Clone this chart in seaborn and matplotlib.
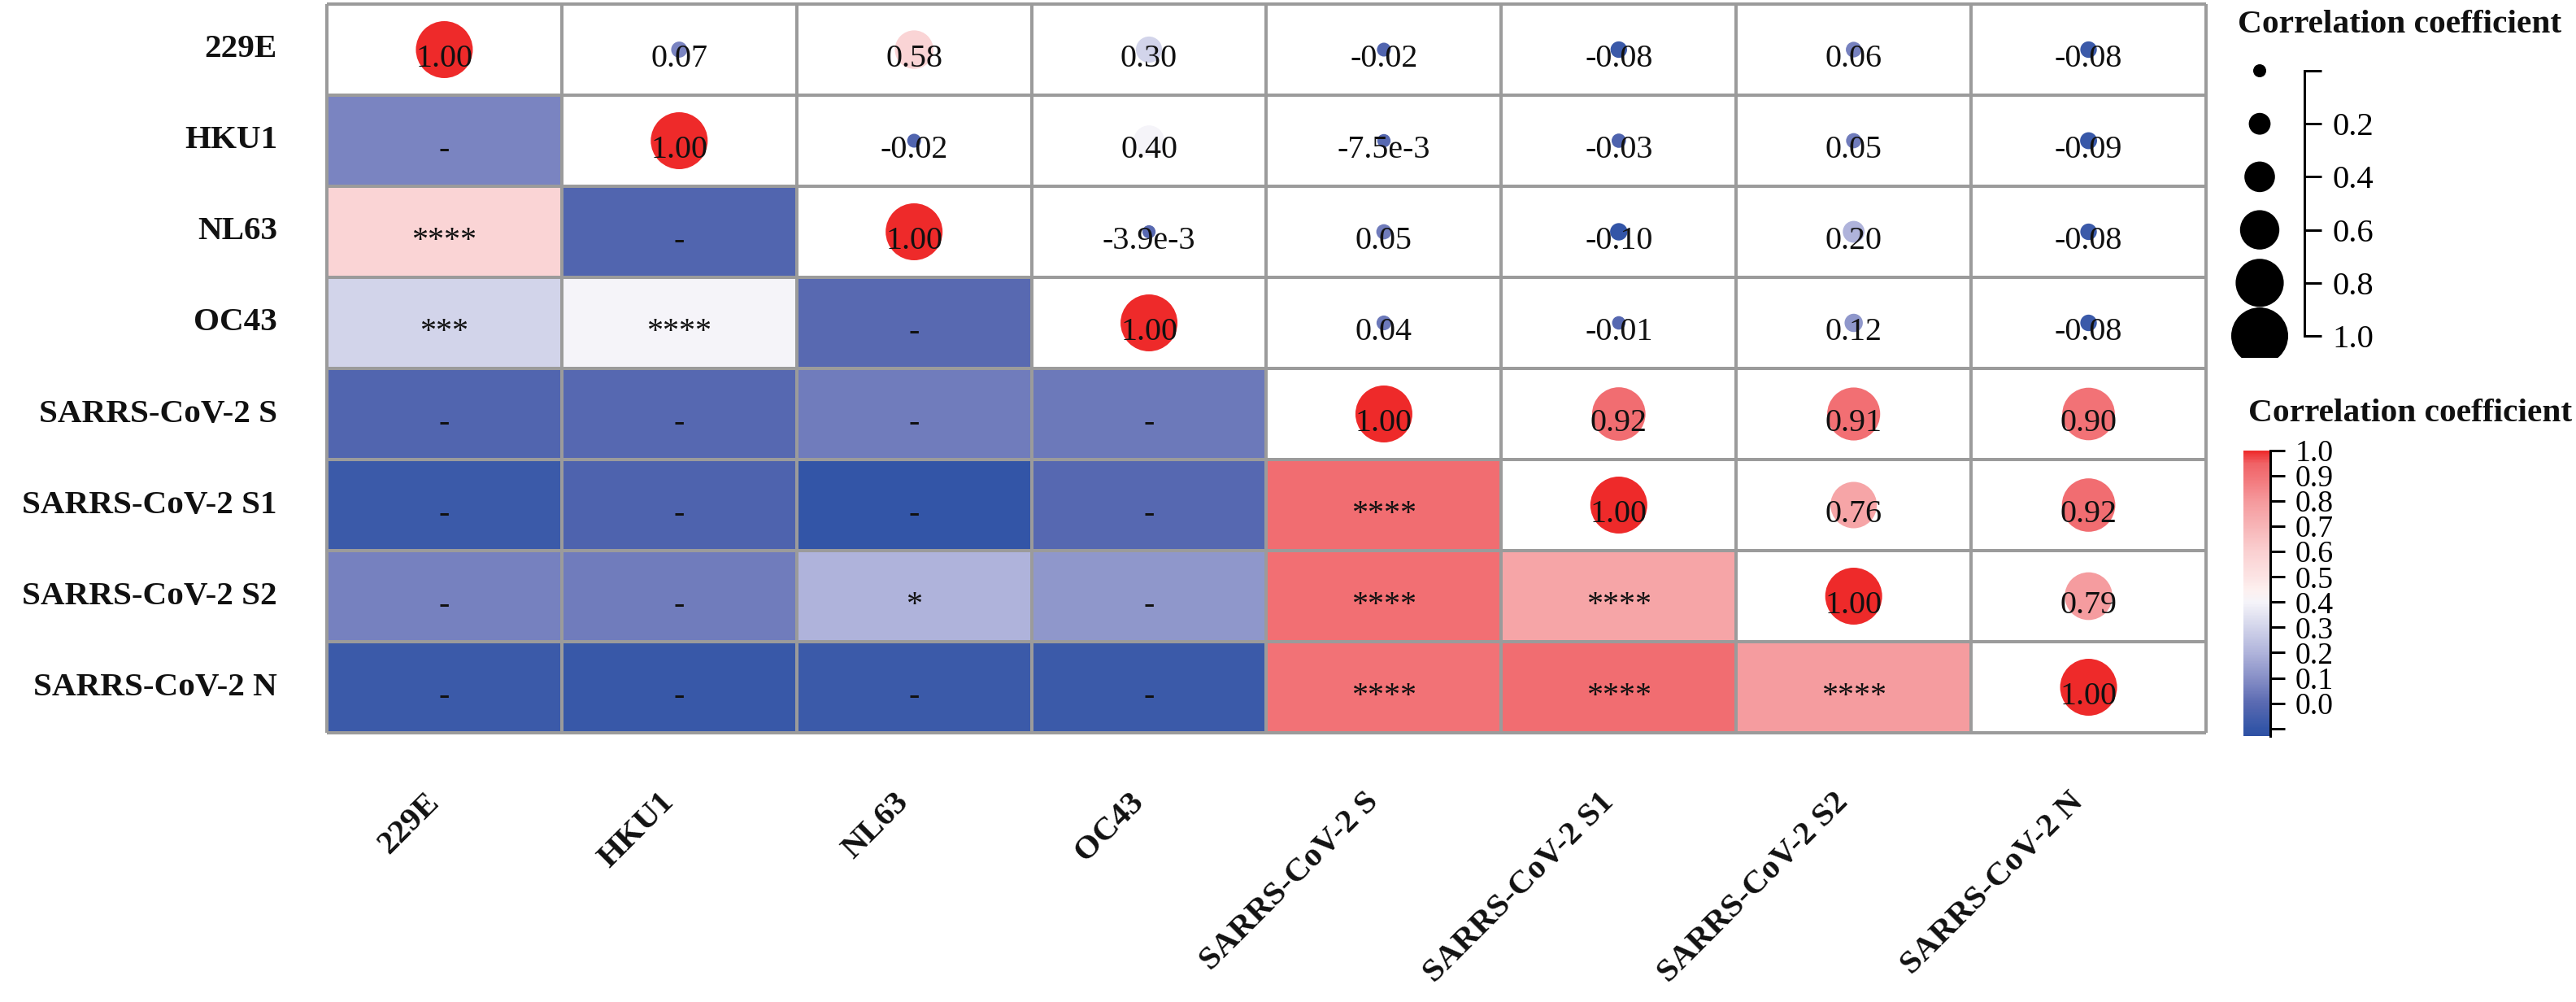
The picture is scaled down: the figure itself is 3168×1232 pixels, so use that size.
import numpy as np
import pandas as pd
import seaborn as sns
import matplotlib.pyplot as plt
from matplotlib.colors import LinearSegmentedColormap, Normalize
from matplotlib.transforms import ScaledTranslation

# ---------------- data ----------------
labels = ['229E', 'HKU1', 'NL63', 'OC43', 'SARRS-CoV-2 S', 'SARRS-CoV-2 S1',
          'SARRS-CoV-2 S2', 'SARRS-CoV-2 N']

r_229E = [1.00, 0.07, 0.58, 0.30, -0.02, -0.08, 0.06, -0.08]
r_HKU1 = [0.07, 1.00, -0.02, 0.40, -0.0075, -0.03, 0.05, -0.09]
r_NL63 = [0.58, -0.02, 1.00, -0.0039, 0.05, -0.10, 0.20, -0.08]
r_OC43 = [0.30, 0.40, -0.0039, 1.00, 0.04, -0.01, 0.12, -0.08]
r_S = [-0.02, -0.0075, 0.05, 0.04, 1.00, 0.92, 0.91, 0.90]
r_S1 = [-0.08, -0.03, -0.10, -0.01, 0.92, 1.00, 0.76, 0.92]
r_S2 = [0.06, 0.05, 0.20, 0.12, 0.91, 0.76, 1.00, 0.79]
r_N = [-0.08, -0.09, -0.08, -0.08, 0.90, 0.92, 0.79, 1.00]

sig_HKU1 = ['-']
sig_NL63 = ['****', '-']
sig_OC43 = ['***', '****', '-']
sig_S = ['-', '-', '-', '-']
sig_S1 = ['-', '-', '-', '-', '****']
sig_S2 = ['-', '-', '*', '-', '****', '****']
sig_N = ['-', '-', '-', '-', '****', '****', '****']

cbar_ticks = [-0.1, 0.0, 0.1, 0.2, 0.3, 0.4, 0.5, 0.6, 0.7, 0.8, 0.9, 1.0]
cbar_ticklabels = ['', '0.0', '0.1', '0.2', '0.3', '0.4', '0.5', '0.6', '0.7', '0.8', '0.9', '1.0']
size_legend_values = [0.0, 0.2, 0.4, 0.6, 0.8, 1.0]
size_legend_labels = ['', '0.2', '0.4', '0.6', '0.8', '1.0']

corr = pd.DataFrame([r_229E, r_HKU1, r_NL63, r_OC43, r_S, r_S1, r_S2, r_N],
                    index=labels, columns=labels)
sig_rows = [[], sig_HKU1, sig_NL63, sig_OC43, sig_S, sig_S1, sig_S2, sig_N]

# ---------------- style ----------------
W, H, DPI = 3168, 1232, 200
PX = 72.0 / DPI  # points per pixel

sns.set_theme(style='white')
plt.rcParams['font.family'] = ['Liberation Serif', 'DejaVu Serif']
plt.rcParams['axes.unicode_minus'] = False

VMIN, VMAX = -0.13, 1.0
cmap = LinearSegmentedColormap.from_list('corr', [
    (0.0, '#2E50A4'),
    ((-0.10 - VMIN) / (VMAX - VMIN), '#3456A7'),
    ((0.00 - VMIN) / (VMAX - VMIN), '#5A6AB2'),
    ((0.10 - VMIN) / (VMAX - VMIN), '#8890C7'),
    ((0.20 - VMIN) / (VMAX - VMIN), '#B0B4DB'),
    ((0.30 - VMIN) / (VMAX - VMIN), '#D2D4EA'),
    ((0.40 - VMIN) / (VMAX - VMIN), '#F5F4F9'),
    ((0.45 - VMIN) / (VMAX - VMIN), '#FDF0EF'),
    ((0.50 - VMIN) / (VMAX - VMIN), '#FCE4E4'),
    ((0.60 - VMIN) / (VMAX - VMIN), '#FAD0D1'),
    ((0.70 - VMIN) / (VMAX - VMIN), '#F7B5B7'),
    ((0.80 - VMIN) / (VMAX - VMIN), '#F59A9D'),
    ((0.90 - VMIN) / (VMAX - VMIN), '#F27377'),
    ((0.95 - VMIN) / (VMAX - VMIN), '#F06367'),
    (1.0, '#EE2A2A'),
])
norm = Normalize(VMIN, VMAX)

fig = plt.figure(figsize=(W / DPI, H / DPI), dpi=DPI)
fig.patch.set_facecolor('white')


def fbox(x0, y0, x1, y1):
    return [x0 / W, 1 - y1 / H, (x1 - x0) / W, (y1 - y0) / H]


ax = fig.add_axes(fbox(402, 5, 2713, 901))
cax = fig.add_axes(fbox(2759, 554, 2792, 905))

n = len(labels)
mask_upper = np.triu(np.ones((n, n), dtype=bool))

sns.heatmap(corr, mask=mask_upper, cmap=cmap, vmin=VMIN, vmax=VMAX, ax=ax,
            cbar_ax=cax, cbar_kws=dict(ticks=cbar_ticks),
            xticklabels=labels, yticklabels=labels, linewidths=0)
ax.set_facecolor('white')

# grid lines
grid_c = '#9B9B9B'
ax.hlines(np.arange(n + 1), 0, n, colors=grid_c, lw=4 * PX, zorder=3, clip_on=False)
ax.vlines(np.arange(n + 1), 0, n, colors=grid_c, lw=4 * PX, zorder=3, clip_on=False)


def fmt(v):
    if v != 0 and abs(v) < 0.01:
        s = f'{v:.1e}'
        return s.replace('e-0', 'e-').replace('e+0', 'e')
    return f'{v:.2f}'


# upper triangle circles + values
xs, ys, cs, ss = [], [], [], []
for i in range(n):
    for j in range(i, n):
        v = corr.iloc[i, j]
        d = 16 + 54 * abs(v)
        xs.append(j + 0.5)
        ys.append(i + 0.5)
        cs.append(v)
        ss.append((d * PX) ** 2)
ax.scatter(xs, ys, s=ss, c=cs, cmap=cmap, norm=norm, linewidths=0, zorder=4)

BASE = 21 / 112.0
for i in range(n):
    for j in range(i, n):
        ax.text(j + 0.5, i + 0.5 + BASE, fmt(corr.iloc[i, j]), ha='center',
                va='baseline', fontsize=14.4, color='#111111', zorder=5)
    for j, s in enumerate(sig_rows[i]):
        ax.text(j + 0.5, i + 0.5 + BASE, s, ha='center', va='baseline',
                fontsize=14.4, color='#111111', zorder=5)

# tick labels
ax.tick_params(axis='both', length=0)
ax.tick_params(axis='x', pad=24)
ax.tick_params(axis='y', pad=22)
ax.set_yticklabels(labels, rotation=0, fontweight='bold', fontsize=14.8, color='#111111')
ax.set_xticklabels(labels, rotation=45, ha='right', rotation_mode='anchor',
                   fontweight='bold', fontsize=14.8, color='#111111')
shift = ScaledTranslation(-25 / DPI, 0, fig.dpi_scale_trans)
for lab in ax.get_xticklabels():
    lab.set_transform(lab.get_transform() + shift)
ax.set_xlabel('')
ax.set_ylabel('')
for sp in ax.spines.values():
    sp.set_visible(False)

# colorbar
cbar = ax.collections[0].colorbar
cbar.outline.set_visible(False)
cbar.ax.spines['right'].set_visible(True)
cbar.ax.spines['right'].set_color('black')
cbar.ax.spines['right'].set_linewidth(3 * PX)
cbar.set_ticks(cbar_ticks)
cbar.set_ticklabels(cbar_ticklabels)
cbar.ax.tick_params(axis='y', right=True, direction='out', length=18 * PX,
                    width=3 * PX, color='black', pad=4.7, labelsize=13.6,
                    labelcolor='black')
fig.text(2765 / W, 1 - 509 / H, 'Correlation coefficient', ha='left', va='center',
         fontsize=14.9, fontweight='bold', color='#111111')

# size legend
lax = fig.add_axes(fbox(2740, 60, 2940, 440))
lax.set_xlim(0, 200)
lax.set_ylim(1 + 27 / 326, -27 / 326)
lax.patch.set_alpha(0)
lax.scatter([39] * len(size_legend_values), size_legend_values,
            s=[((16 + 54 * v) * PX) ** 2 for v in size_legend_values],
            color='black', linewidths=0, zorder=3)
for k in ['top', 'bottom', 'left']:
    lax.spines[k].set_visible(False)
lax.spines['right'].set_visible(True)
lax.spines['right'].set_position(('data', 94))
lax.spines['right'].set_bounds(0, 1)
lax.spines['right'].set_color('black')
lax.spines['right'].set_linewidth(3 * PX)
lax.yaxis.tick_right()
lax.set_yticks(size_legend_values)
lax.set_yticklabels(size_legend_labels)
lax.tick_params(axis='y', right=True, left=False, direction='out', length=21 * PX,
                width=3 * PX, color='black', pad=4.7, labelsize=14.7, labelcolor='black')
lax.set_xticks([])
lax.grid(False)
fig.text(2752 / W, 1 - 30 / H, 'Correlation coefficient', ha='left', va='center',
         fontsize=14.9, fontweight='bold', color='#111111')

fig.savefig('out.png', dpi=DPI, facecolor='white')
